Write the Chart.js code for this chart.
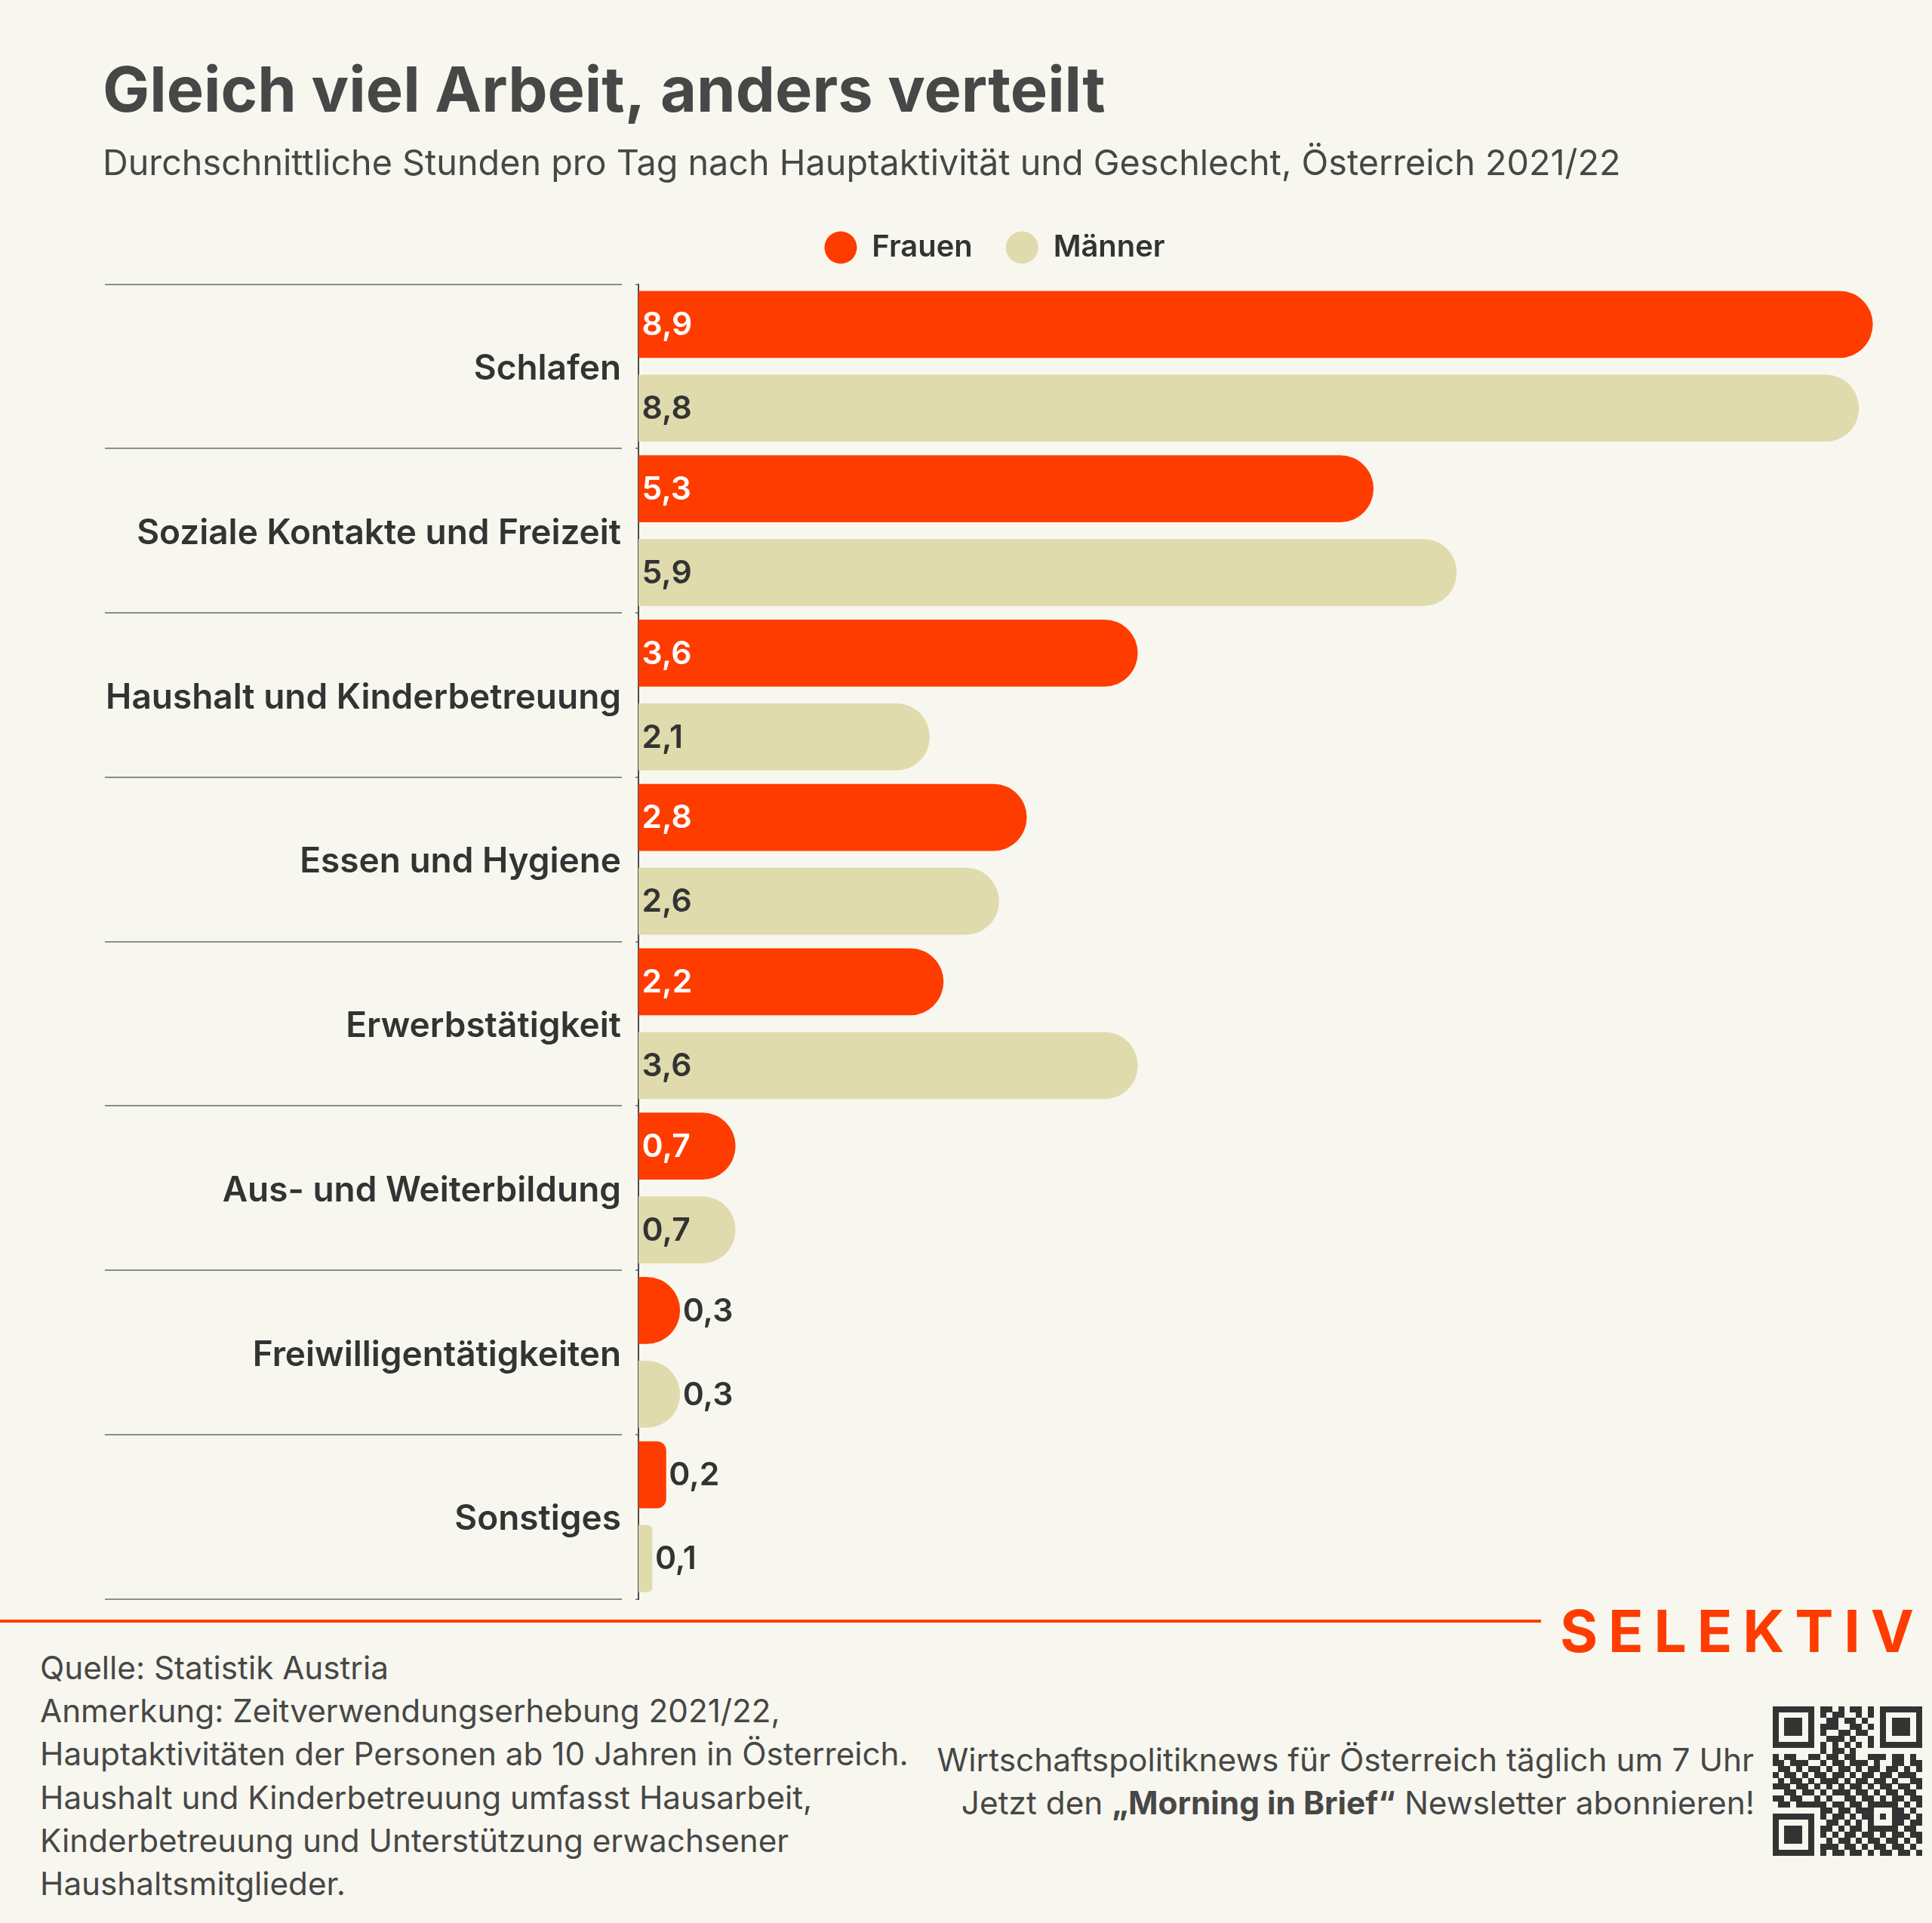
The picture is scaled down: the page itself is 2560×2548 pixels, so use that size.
<!DOCTYPE html>
<html><head><meta charset="utf-8">
<script src="https://cdn.jsdelivr.net/npm/chart.js@4.4.1/dist/chart.umd.min.js"></script>
<style>
html,body{margin:0;padding:0;background:#f8f7ef;}
body{width:2560px;height:2548px;position:relative;overflow:hidden;}
#c{position:absolute;left:0;top:0;width:2560px;height:2140px;}
#rule{position:absolute;left:0;top:2146px;width:2042px;height:4px;background:#ff3c00;}
.ft{position:absolute;color:#474747;white-space:nowrap;}
#qr{position:absolute;left:2349px;top:2261px;width:198px;height:198px;}
</style></head><body>
<canvas id="c" width="2560" height="2140"></canvas>
<div id="rule"></div>
<div id="brand" class="ft">SELEKTIV</div>
<div id="notes"></div>
<div id="promo"></div>
<canvas id="qr" width="198" height="198"></canvas>
<script>
// ---------- data ----------
const categories = ['Schlafen','Soziale Kontakte und Freizeit','Haushalt und Kinderbetreuung','Essen und Hygiene','Erwerbstätigkeit','Aus- und Weiterbildung','Freiwilligentätigkeiten','Sonstiges'];
const frauen  = [8.9, 5.3, 3.6, 2.8, 2.2, 0.7, 0.3, 0.2];
const maenner = [8.8, 5.9, 2.1, 2.6, 3.6, 0.7, 0.3, 0.1];
const seriesLabels = ['Frauen','Männer'];
const titleText = 'Gleich viel Arbeit, anders verteilt';
const subtitleText = 'Durchschnittliche Stunden pro Tag nach Hauptaktivität und Geschlecht, Österreich 2021/22';
const noteLines = ['Quelle: Statistik Austria','Anmerkung: Zeitverwendungserhebung 2021/22,','Hauptaktivitäten der Personen ab 10 Jahren in Österreich.','Haushalt und Kinderbetreuung umfasst Hausarbeit,','Kinderbetreuung und Unterstützung erwachsener','Haushaltsmitglieder.'];
const promoLine1 = 'Wirtschaftspolitiknews für Österreich täglich um 7 Uhr';
const promoLine2 = ['Jetzt den ', '„Morning in Brief“', ' Newsletter abonnieren!'];
const brandText = 'SELEKTIV';

// ---------- style ----------
const ORANGE = '#ff3c00';
const BEIGE = '#dfdbad';
const DARK = '#333333';
const GREY = '#474747';

// ---------- font helpers ----------
const mctx = document.createElement('canvas').getContext('2d');
function fontStr(w, s, f){ return w + ' ' + s + 'px "' + f + '"'; }
function measure(text, w, f, s){ mctx.font = fontStr(w, s, f); mctx.textBaseline = 'alphabetic'; return mctx.measureText(text); }
function fit(text, w, f, target){ return 100 * target / measure(text, w, f, 100).width; }
function capRatio(w, f){ return measure('H', w, f, 100).actualBoundingBoxAscent / 100; }
function middleToBase(w, f, s){ mctx.font = fontStr(w, s, f); mctx.textBaseline = 'middle'; const m = mctx.measureText('H'); mctx.textBaseline = 'alphabetic'; return m.actualBoundingBoxDescent; }

const candidates = ['Lato','Inter','Open Sans','Noto Sans','Roboto','Liberation Sans','DejaVu Sans'];
let FAM = 'Lato', bestScore = 1e9;
for (const f of candidates) {
  const sT = fit(titleText, '700', f, 1329), sS = fit(subtitleText, '400', f, 2012);
  const cT = sT * capRatio('700', f), cS = sS * capRatio('400', f);
  const score = Math.abs(Math.log(cT / 61.5)) + Math.abs(Math.log(cS / 32.3));
  if (score < bestScore) { bestScore = score; FAM = f; }
}

const sT = fit(titleText, '700', FAM, 1329);
const sS = fit(subtitleText, '400', FAM, 2012);
const sL = fit('Männer', '600', FAM, 148);
const sC = fit('Haushalt und Kinderbetreuung', '600', FAM, 683);
const sV = fit('3,6', '600', FAM, 66);
const sN = fit('Hauptaktivitäten der Personen ab 10 Jahren in Österreich.', '400', FAM, 1151);
const sP = fit(promoLine1, '400', FAM, 1083);

// vertical layout of header boxes
const LEG_PAD = 44;
const P = 148 - sT / 2 - middleToBase('700', FAM, sT);
const mS = 232.3 - middleToBase('400', FAM, sS);
const bT = Math.max(0, mS - sS / 2 - P - sT);
const LT = 328 - LEG_PAD - sL / 2;
const bS = Math.max(0, LT - (mS + sS / 2));
const LEG_H = 376.5 - LT;

// ---------- bar shape: flat start, rounded end ----------
const BarEl = (Chart.elements && Chart.elements.BarElement) || Chart.BarElement;
if (BarEl) {
  BarEl.prototype.draw = function (ctx) {
    const p = this.getProps(['x', 'y', 'base', 'height']);
    const left = Math.min(p.base, p.x), right = Math.max(p.base, p.x);
    const top = p.y - p.height / 2, bottom = p.y + p.height / 2;
    const w = right - left, h = bottom - top;
    if (w <= 0) return;
    const r = w >= h / 2 ? h / 2 : w / 3;
    ctx.save();
    ctx.fillStyle = this.options.backgroundColor;
    ctx.beginPath();
    ctx.moveTo(left, top);
    ctx.lineTo(right - r, top);
    ctx.arcTo(right, top, right, top + r, r);
    ctx.lineTo(right, bottom - r);
    ctx.arcTo(right, bottom, right - r, bottom, r);
    ctx.lineTo(left, bottom);
    ctx.closePath();
    ctx.fill();
    ctx.restore();
  };
}

// ---------- plugins ----------
const legendFix = {
  id: 'legendFix',
  afterInit(chart) {
    const lg = chart.legend;
    if (!lg) return;
    const orig = lg.fit.bind(lg);
    lg.fit = function () { orig(); this.height = LEG_H; };
  }
};

const valueLabels = {
  id: 'valueLabels',
  afterDatasetsDraw(chart) {
    const ctx = chart.ctx, xs = chart.scales.x;
    chart.data.datasets.forEach((ds, di) => {
      const meta = chart.getDatasetMeta(di);
      meta.data.forEach((bar, i) => {
        const v = ds.data[i];
        const txt = v.toFixed(1).replace('.', ',');
        const inside = v >= 0.5;
        ctx.save();
        ctx.font = fontStr('600', sV, FAM);
        ctx.textBaseline = 'middle';
        ctx.textAlign = 'left';
        ctx.fillStyle = (inside && di === 0) ? '#ffffff' : DARK;
        const x = inside ? xs.getPixelForValue(0) + 4.5 : bar.x + 3.5;
        ctx.fillText(txt, x, bar.y + 1.5);
        ctx.restore();
      });
    });
  }
};

// ---------- chart ----------
new Chart(document.getElementById('c'), {
  type: 'bar',
  data: {
    labels: categories,
    datasets: [
      { label: seriesLabels[0], data: frauen, backgroundColor: ORANGE, borderRadius: 999, borderSkipped: 'start', categoryPercentage: 1.02, barPercentage: 0.8 },
      { label: seriesLabels[1], data: maenner, backgroundColor: BEIGE, borderRadius: 999, borderSkipped: 'start', categoryPercentage: 1.02, barPercentage: 0.8 }
    ]
  },
  options: {
    indexAxis: 'y',
    responsive: false,
    animation: false,
    layout: { padding: { top: P, left: 136, right: 60, bottom: 21.5 } },
    scales: {
      x: { min: 0, max: 9, display: false },
      y: {
        grid: { offset: true, drawOnChartArea: false, drawTicks: true, tickLength: 707, color: '#8c8c8c', lineWidth: 2, tickBorderDash: [685, 18] },
        border: { display: true, color: '#4a4a4a', width: 2 },
        ticks: { padding: -684, crossAlign: 'near', labelOffset: 4, color: DARK, font: { family: FAM, size: sC, weight: '600' }, autoSkip: false },
        afterFit(s) { s.width = 710; }
      }
    },
    plugins: {
      title: { display: true, text: titleText, align: 'start', color: GREY, font: { family: FAM, size: sT, weight: '700', lineHeight: 1 }, padding: { top: 0, bottom: bT } },
      subtitle: { display: true, text: subtitleText, align: 'start', color: GREY, font: { family: FAM, size: sS, weight: '400', lineHeight: 1 }, padding: { top: 0, bottom: bS } },
      legend: {
        position: 'top', align: 'center',
        labels: { usePointStyle: true, pointStyle: 'circle', boxHeight: 43 / Math.SQRT2, pointStyleWidth: 43, padding: LEG_PAD, color: DARK, font: { family: FAM, size: sL, weight: '600' } }
      },
      tooltip: { enabled: false }
    }
  },
  plugins: [legendFix, valueLabels]
});

// ---------- footer ----------
function placeText(el, text, weight, size, baseline, left, right) {
  el.className = 'ft';
  el.style.font = fontStr(weight, size, FAM);
  const m = measure('Hg', weight, FAM, size);
  const A = m.fontBoundingBoxAscent, D = m.fontBoundingBoxDescent;
  const L = Math.round(size * 1.3);
  el.style.lineHeight = L + 'px';
  el.style.top = (baseline - ((L - (A + D)) / 2 + A)) + 'px';
  if (left !== null) el.style.left = left + 'px';
  if (right !== null) { el.style.right = right + 'px'; el.style.textAlign = 'right'; }
  if (text !== null) el.textContent = text;
}
const notes = document.getElementById('notes');
noteLines.forEach((t, i) => {
  const d = document.createElement('div');
  notes.appendChild(d);
  placeText(d, t, '400', sN, 2225 + i * 57.2, 53, null);
});
const promo = document.getElementById('promo');
const p1 = document.createElement('div'); promo.appendChild(p1);
placeText(p1, promoLine1, '400', sP, 2347, null, 2560 - 2324);
const p2 = document.createElement('div'); promo.appendChild(p2);
placeText(p2, null, '400', sP, 2404, null, 2560 - 2325);
p2.appendChild(document.createTextNode(promoLine2[0]));
const b = document.createElement('b'); b.style.fontWeight = '700'; b.textContent = promoLine2[1]; p2.appendChild(b);
p2.appendChild(document.createTextNode(promoLine2[2]));

const brand = document.getElementById('brand');
const sB = 56 / capRatio('700', FAM);
const wB = measure(brandText, '700', FAM, sB).width;
placeText(brand, brandText, '700', sB, 2189, 2067, null);
brand.style.color = ORANGE;
brand.style.letterSpacing = ((469 - wB) / 7) + 'px';

// ---------- QR-style mark ----------
const qrRows = [
'0000000011010110100000000',
'0000000010110010100000000',
'0000000001101101000000000',
'0000000011100110100000000',
'0000000010011011000000000',
'0000000001110100100000000',
'0000000000000000000000000',
'0000000010110100000000000',
'1011001101101100111011010',
'1101110010110111010011011',
'0110101101011010110110101',
'1011010110110101101101110',
'0101101011101011011010011',
'1110110101010110101101101',
'0011011010111011010110110',
'1101101101001101101011011',
'0110110110110110111110101',
'0000000011011011100011010',
'0000000010110101101011101',
'0000000001101010100011011',
'0000000011010110111110110',
'0000000010101101101011011',
'0000000001011010110110101',
'0000000011101101011011010',
'0000000010110110101101101'
];
(function drawQR(){
  const N = 25;
  const grid = qrRows.map(r => r.split('').map(c => c === '1'));
  function finder(r0, c0) {
    for (let r = -1; r <= 7; r++) for (let c = -1; c <= 7; c++) {
      const rr = r0 + r, cc = c0 + c;
      if (rr < 0 || cc < 0 || rr >= N || cc >= N) continue;
      const inside = r >= 0 && r <= 6 && c >= 0 && c <= 6;
      const on = inside && (r === 0 || r === 6 || c === 0 || c === 6 || (r >= 2 && r <= 4 && c >= 2 && c <= 4));
      grid[rr][cc] = on;
    }
  }
  finder(0, 0); finder(0, N - 7); finder(N - 7, 0);
  for (let i = 8; i < N - 8; i++) { grid[6][i] = i % 2 === 0; grid[i][6] = i % 2 === 0; }
  for (let r = -2; r <= 2; r++) for (let c = -2; c <= 2; c++) {
    grid[18 + r][18 + c] = (Math.max(Math.abs(r), Math.abs(c)) !== 1);
  }
  const q = document.getElementById('qr').getContext('2d');
  const m = 198 / N;
  q.fillStyle = '#333333';
  for (let r = 0; r < N; r++) for (let c = 0; c < N; c++) {
    if (grid[r][c]) q.fillRect(Math.floor(c * m), Math.floor(r * m), Math.ceil(m), Math.ceil(m));
  }
})();
</script>
</body></html>
